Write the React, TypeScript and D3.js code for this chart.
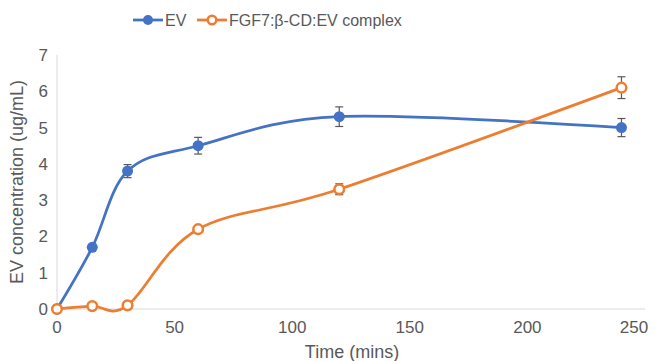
import React from "react";
import { scaleLinear, line, curveCardinal } from "d3";

// values
const times = [0, 15, 30, 60, 120, 240];
const evValues = [0, 1.7, 3.8, 4.5, 5.3, 5.0];
const evErrors = [0, 0, 0.18, 0.23, 0.27, 0.25];
const complexValues = [0, 0.08, 0.1, 2.2, 3.3, 6.1];
const complexErrors = [0, 0, 0, 0, 0.15, 0.3];
const xTicks = [0, 50, 100, 150, 200, 250];
const yTicks = [0, 1, 2, 3, 4, 5, 6, 7];

const blue = "#4472C4";
const orange = "#ED7D31";
const textColor = "#595959";
const font = "Liberation Sans, Arial, sans-serif";

export default function App() {
  const width = 655,
    height = 361;
  const left = 57,
    right = 645,
    top = 55,
    bottom = 309;

  const x = scaleLinear().domain([0, 250]).range([left, right]);
  const y = scaleLinear().domain([0, 7]).range([bottom, top]);

  const path = line<number>()
    .x((_, i) => x(times[i]))
    .y(d => y(d))
    .curve(curveCardinal.tension(0));

  const series = [
    { name: "EV", values: evValues, errors: evErrors, color: blue, filled: true },
    {
      name: "FGF7:β-CD:EV complex",
      values: complexValues,
      errors: complexErrors,
      color: orange,
      filled: false
    }
  ];

  return (
    <svg
      width={width}
      height={height}
      style={{ position: "absolute", left: 0, top: 0, background: "#fff" }}
      fontFamily={font}
    >
      {/* axes */}
      <line x1={left} x2={left} y1={top} y2={bottom} stroke="#d9d9d9" strokeWidth={1} />
      <line x1={left} x2={right} y1={bottom} y2={bottom} stroke="#d9d9d9" strokeWidth={1} />
      {yTicks.map(t => (
        <text
          key={"y" + t}
          x={left - 9}
          y={y(t)}
          dy="0.35em"
          textAnchor="end"
          fontSize={17}
          fill={textColor}
        >
          {t}
        </text>
      ))}
      {xTicks.map(t => (
        <text
          key={"x" + t}
          x={Math.min(x(t), 634)}
          y={bottom + 24}
          textAnchor="middle"
          fontSize={17}
          fill={textColor}
        >
          {t}
        </text>
      ))}
      <text
        transform={`translate(23, ${(top + bottom) / 2}) rotate(-90)`}
        textAnchor="middle"
        fontSize={18}
        fill={textColor}
      >
        EV concentration (ug/mL)
      </text>
      <text x={352} y={358} textAnchor="middle" fontSize={18} fill={textColor}>
        Time (mins)
      </text>

      {/* series */}
      {series.map(s => (
        <g key={s.name}>
          <path d={path(s.values) || ""} fill="none" stroke={s.color} strokeWidth={2.75} />
          {s.values.map((v, i) =>
            s.errors[i] > 0 ? (
              <g key={"e" + i} stroke="#595959" strokeWidth={1.2}>
                <line x1={x(times[i])} x2={x(times[i])} y1={y(v - s.errors[i])} y2={y(v + s.errors[i])} />
                <line x1={x(times[i]) - 4} x2={x(times[i]) + 4} y1={y(v - s.errors[i])} y2={y(v - s.errors[i])} />
                <line x1={x(times[i]) - 4} x2={x(times[i]) + 4} y1={y(v + s.errors[i])} y2={y(v + s.errors[i])} />
              </g>
            ) : null
          )}
          {s.values.map((v, i) => (
            <circle
              key={"m" + i}
              cx={x(times[i])}
              cy={y(v)}
              r={s.filled ? 5.5 : 4.8}
              fill={s.filled ? s.color : "#fff"}
              stroke={s.color}
              strokeWidth={s.filled ? 0 : 2.5}
            />
          ))}
        </g>
      ))}

      {/* legend */}
      <g>
        <line x1={133} x2={163} y1={20} y2={20} stroke={blue} strokeWidth={2.75} />
        <circle cx={148} cy={20} r={5} fill={blue} />
        <text x={165} y={20} dy="0.35em" fontSize={16} fill={textColor}>
          EV
        </text>
        <line x1={197} x2={227} y1={20} y2={20} stroke={orange} strokeWidth={2.75} />
        <circle cx={212} cy={20} r={4.3} fill="#fff" stroke={orange} strokeWidth={2.5} />
        <text x={229} y={20} dy="0.35em" fontSize={16} fill={textColor}>
          FGF7:β-CD:EV complex
        </text>
      </g>
    </svg>
  );
}
